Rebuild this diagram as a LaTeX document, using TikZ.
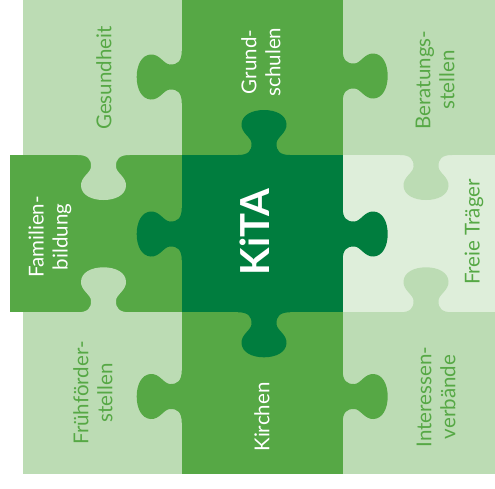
\documentclass[tikz,border=0pt]{standalone}
\usepackage{fontspec}
\setmainfont{Lato}
\newfontfamily\kitafont{Lato}
\definecolor{lightg}{HTML}{BCDCB4}
\definecolor{midg}{HTML}{56A845}
\definecolor{darkg}{HTML}{007D3E}
\definecolor{paleg}{HTML}{DEEEDA}
\newcommand\puzknob[4]{%
  \fill[#1, shift={(#2,#3)}, rotate=#4]
    (-26,-1) -- (-26,0) .. controls (-16,0) and (-12,4) .. (-12.5,12)
    .. controls (-13,18) and (-23,22) .. (-22.5,31)
    .. controls (-22,40) and (-12,45) .. (0,45)
    .. controls (12,45) and (22,40) .. (22.5,31)
    .. controls (23,22) and (13,18) .. (12.5,12)
    .. controls (12,4) and (16,0) .. (26,0) -- (26,-1) -- cycle;}
\begin{document}
\begin{tikzpicture}[x=1pt,y=-1pt,
  lbl/.style={rotate=90, align=center, inner sep=0pt,
    font=\fontsize{20.5}{24}\selectfont},
  lighttext/.style={lbl, text=midg},
  whitetext/.style={lbl, text=white}]
\useasboundingbox (0,0) rectangle (495,488);
% pieces
\fill[lightg] (22.7,0) rectangle (181.7,155);
\fill[midg] (181.7,0) rectangle (342.7,155);
\fill[lightg] (342.7,0) rectangle (495,155);
\fill[midg] (10,155) rectangle (181.7,312.3);
\fill[darkg] (181.7,155) rectangle (342.7,312.3);
\fill[paleg] (342.7,155) rectangle (495,312.3);
\fill[lightg] (22.7,312.3) rectangle (181.7,474.3);
\fill[midg] (181.7,312.3) rectangle (342.7,474.3);
\fill[lightg] (342.7,312.3) rectangle (495,474.3);
% knobs
\puzknob{midg}{181.7}{77}{-90}
\puzknob{midg}{342.7}{76}{90}
\puzknob{darkg}{264}{155}{180}
\puzknob{lightg}{103.5}{155}{0}
\puzknob{lightg}{426}{155}{0}
\puzknob{darkg}{181.7}{234}{-90}
\puzknob{darkg}{342.7}{234}{90}
\puzknob{lightg}{103.5}{312.3}{180}
\puzknob{darkg}{264}{312.3}{0}
\puzknob{lightg}{426}{312.3}{180}
\puzknob{midg}{181.7}{396.5}{-90}
\puzknob{midg}{342.7}{396.5}{90}
% labels
\node[lighttext] (ges) at (104,78) {Gesundheit};
\node[whitetext] (gru) at (261,62) {Grund-\\schulen};
\node[lighttext] (ber) at (435,80) {Beratungs-\\stellen};
\node[whitetext] (fam) at (50,237) {Familien-\\bildung};
\node[whitetext, font=\kitafont\bfseries\fontsize{40}{42}\selectfont] (kita) at (255,232) {KiTA};
\node[lighttext] (frei) at (474,232) {Freie Träger};
\node[lighttext] (fru) at (93,393) {Frühförder-\\stellen};
\node[whitetext] (kir) at (262,417) {Kirchen};
\node[lighttext] (int) at (436,397) {Interessen-\\verbände};
\end{tikzpicture}
\end{document}
